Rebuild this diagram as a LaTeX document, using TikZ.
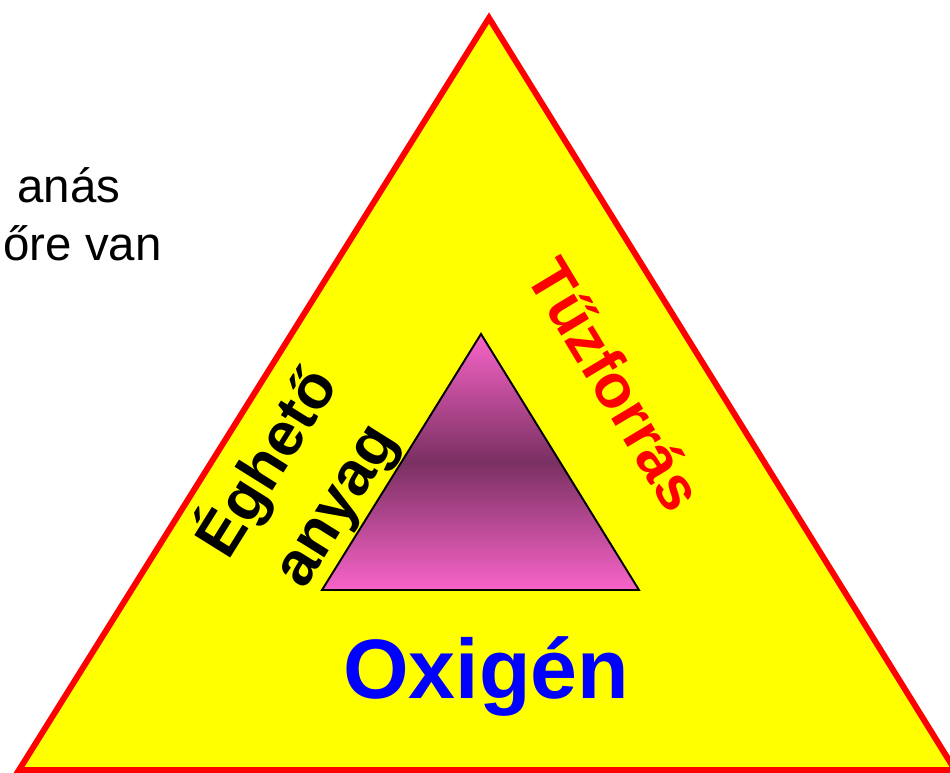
\documentclass[tikz,border=0pt]{standalone}
\usepackage{fontspec}
\setmainfont{Liberation Sans}
\definecolor{firered}{RGB}{255,0,0}
\definecolor{fireyellow}{RGB}{255,255,0}
\definecolor{flamepink}{RGB}{248,100,200}
\definecolor{flamedark}{RGB}{122,48,98}
\begin{document}
\begin{tikzpicture}[x=0.02cm, y=-0.02cm,
  side/.style={font=\fontsize{35}{45}\selectfont\bfseries, inner sep=0pt},
  note/.style={font=\fontsize{27}{30}\selectfont, inner sep=0pt, anchor=base west}]
\useasboundingbox (0,0) rectangle (950,773);
\clip (0,0) rectangle (950,773);
\coordinate (top) at (489,18);
\coordinate (left) at (19,770);
\coordinate (right) at (955,770);
\coordinate (itop) at (481,334);
\coordinate (ileft) at (322,590);
\coordinate (iright) at (639,590);
\filldraw[draw=firered, fill=fireyellow, line width=3.4pt] (top) -- (left) -- (right) -- cycle;
\shadedraw[top color=flamepink, bottom color=flamepink, middle color=flamedark, draw=black, line width=1.1pt] (itop) -- (ileft) -- (iright) -- cycle;
\node[note] (line1) at (17,203) {anás};
\node[note] (line2) at (3,261) {őre van};
\node[side, align=center, rotate=58] (fuel) at (300,483) {Éghető\\anyag};
\node[side, text=firered, rotate=-59] (heat) at (616,384) {Tűzforrás};
\node[font=\fontsize{48}{50}\selectfont\bfseries, text=blue, anchor=base, inner sep=0pt] (oxygen) at (486,698) {Oxigén};
\end{tikzpicture}
\end{document}
